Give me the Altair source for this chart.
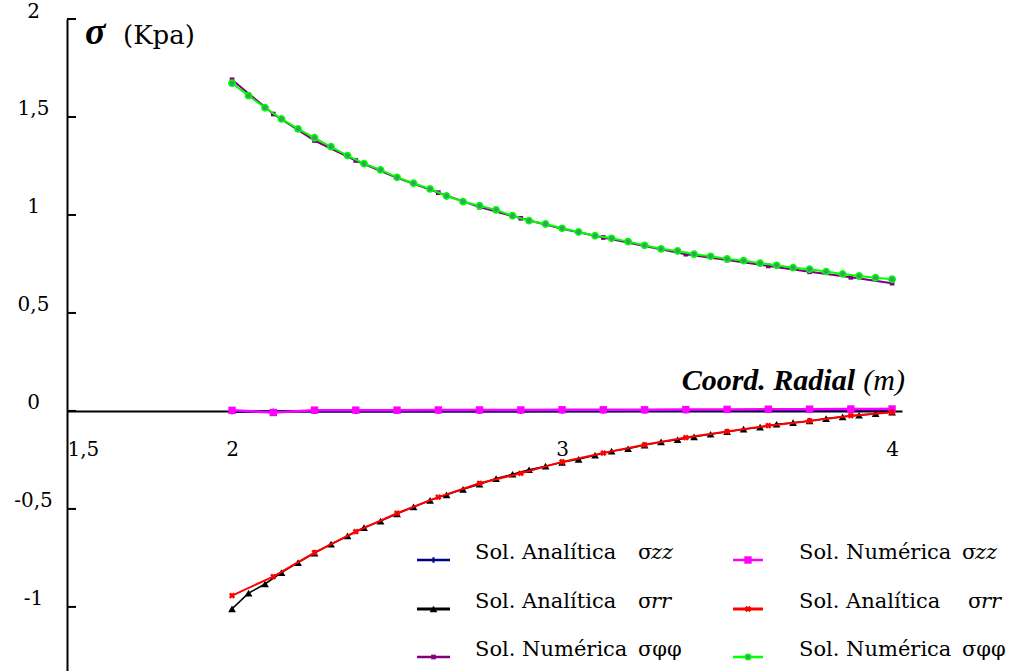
import altair as alt
import pandas as pd

# ---------------- data ----------------
x_fine = [2.00, 2.05, 2.10, 2.15, 2.20, 2.25, 2.30, 2.35, 2.40, 2.45,
          2.50, 2.55, 2.60, 2.65, 2.70, 2.75, 2.80, 2.85, 2.90, 2.95,
          3.00, 3.05, 3.10, 3.15, 3.20, 3.25, 3.30, 3.35, 3.40, 3.45,
          3.50, 3.55, 3.60, 3.65, 3.70, 3.75, 3.80, 3.85, 3.90, 3.95, 4.00]
x_coarse = [2.0, 2.125, 2.25, 2.375, 2.5, 2.625, 2.75, 2.875, 3.0,
            3.125, 3.25, 3.375, 3.5, 3.625, 3.75, 3.875, 4.0]

# Sol. Numérica sigma-phi-phi (green, fine)
phi_num_green = [1.672, 1.609, 1.547, 1.490, 1.439, 1.394, 1.348, 1.303, 1.262, 1.230,
                 1.192, 1.162, 1.133, 1.097, 1.068, 1.047, 1.026, 0.996, 0.971, 0.954,
                 0.932, 0.913, 0.894, 0.881, 0.864, 0.845, 0.827, 0.816, 0.800, 0.789,
                 0.776, 0.767, 0.754, 0.743, 0.731, 0.723, 0.711, 0.699, 0.689, 0.680, 0.672]
# Sol. Analítica sigma-rr (black triangles, fine)
rr_ana_black = [-1.010, -0.930, -0.883, -0.825, -0.774, -0.726, -0.680, -0.638, -0.595, -0.562,
                -0.525, -0.490, -0.456, -0.428, -0.400, -0.374, -0.345, -0.323, -0.300, -0.282,
                -0.262, -0.247, -0.226, -0.205, -0.193, -0.174, -0.158, -0.147, -0.132, -0.119,
                -0.106, -0.093, -0.083, -0.068, -0.060, -0.051, -0.039, -0.030, -0.022, -0.014, -0.006]
# Sol. Numérica sigma-phi-phi (purple, coarse)
phi_num_purple = [1.690, 1.515, 1.380, 1.278, 1.190, 1.114, 1.040, 0.983, 0.930,
                  0.885, 0.842, 0.800, 0.770, 0.740, 0.710, 0.682, 0.652]
# Sol. Analítica sigma-rr (red, coarse)
rr_ana_red = [-0.942, -0.845, -0.723, -0.616, -0.522, -0.440, -0.369, -0.318, -0.260,
              -0.215, -0.173, -0.136, -0.105, -0.075, -0.051, -0.024, -0.007]
# Sol. Numérica sigma-zz (magenta, coarse)
zz_num_magenta = [0.003, -0.008, 0.004, 0.004, 0.004, 0.005, 0.005, 0.005, 0.006,
                  0.006, 0.006, 0.007, 0.008, 0.009, 0.009, 0.010, 0.010]
# Sol. Analítica sigma-zz (navy, coarse)
zz_ana_navy = [-0.004, -0.002, -0.002, -0.002, -0.002, -0.001, -0.001, -0.001, 0.000,
               0.000, 0.001, 0.002, 0.003, 0.004, 0.004, 0.005, 0.006]

x_tick_values = [1.5, 2, 3, 4]
y_tick_values = [-1, -0.5, 0, 0.5, 1, 1.5, 2]

legend_names = ["Sol. Analítica", "Sol. Numérica", "Sol. Analítica",
                "Sol. Analítica", "Sol. Numérica", "Sol. Numérica"]
legend_sub = ["zz", "zz", "rr", "rr", "φφ", "φφ"]

# ---------------- layout ----------------
W, H = 835, 652
SERIF = "DejaVu Serif"
TSERIF = "Liberation Serif"

xscale = alt.Scale(domain=[1.5, 4.03], nice=False, zero=False)
yscale = alt.Scale(domain=[-1.327, 2.0], nice=False, zero=False)

x_axis = alt.Axis(values=x_tick_values, offset=-260, ticks=False, grid=False,
                  domainColor="black", domainWidth=2, labelFlush=True,
                  labelExpr="replace(toString(datum.value), '.', ',')",
                  labelFont=SERIF, labelFontSize=20, labelColor="black",
                  labelBaseline="middle", labelPadding=38, title=None)
y_axis = alt.Axis(values=y_tick_values, ticks=False, grid=False,
                  domainColor="black", domainWidth=2,
                  labelExpr="replace(toString(datum.value), '.', ',')",
                  labelFont=SERIF, labelFontSize=20, labelColor="black",
                  labelAlign="center", labelBaseline="middle", labelPadding=34,
                  labelOffset=-8, title=None)


def xy():
    return dict(x=alt.X("x:Q", scale=xscale, axis=x_axis),
                y=alt.Y("y:Q", scale=yscale, axis=y_axis))


def series(xs, ys, color, lw, shape, size, fill, stroke=None, sw=0, angle=0):
    df = pd.DataFrame({"x": xs, "y": ys})
    base = alt.Chart(df).encode(**xy())
    line = base.mark_line(color=color, strokeWidth=lw)
    kw = dict(shape=shape, size=size, filled=True, fill=fill, opacity=1)
    if stroke:
        kw.update(stroke=stroke, strokeWidth=sw)
    else:
        kw.update(strokeWidth=0)
    if angle:
        kw.update(angle=angle)
    pts = base.mark_point(**kw)
    return [line, pts]


layers = []
layers += series(x_coarse, zz_ana_navy, "#000080", 2.5, "cross", 28, "#000080")
layers += series(x_coarse, zz_num_magenta, "#ff00ff", 2.5, "square", 55, "#ff00ff")
layers += series(x_fine, rr_ana_black, "#000000", 1.5, "triangle-up", 60, "#000000")
layers += series(x_coarse, rr_ana_red, "#ff0000", 2, "cross", 40, "#ff0000", angle=45)
layers += series(x_coarse, phi_num_purple, "#800080", 2, "square", 22, "#800080")
layers += series(x_fine, phi_num_green, "#00ff00", 2, "circle", 40, "#3c9c6c",
                 stroke="#00ff00", sw=1.5)

# inward ticks on the y axis
tick_df = pd.DataFrame({"y": y_tick_values})
layers.append(alt.Chart(tick_df).mark_rule(color="black", strokeWidth=2).encode(
    y=alt.Y("y:Q", scale=yscale, axis=y_axis), x=alt.value(0), x2=alt.value(9)))

one = pd.DataFrame({"d": [0]})

# titles
layers.append(alt.Chart(one).mark_text(text="σ", font=TSERIF, fontSize=38, fontWeight="bold",
                                       fontStyle="italic", align="left", baseline="alphabetic",
                                       color="black").encode(x=alt.value(18), y=alt.value(25)))
layers.append(alt.Chart(one).mark_text(text="(Kpa)", font=SERIF, fontSize=26, align="left",
                                       baseline="alphabetic", color="black").encode(
    x=alt.value(56), y=alt.value(25)))
layers.append(alt.Chart(one).mark_text(text="Coord. Radial", font=TSERIF, fontSize=30,
                                       fontWeight="bold", fontStyle="italic", align="right",
                                       baseline="alphabetic", color="black").encode(
    x=alt.value(788), y=alt.value(371)))
layers.append(alt.Chart(one).mark_text(text="(m)", font=TSERIF, fontSize=30,
                                       fontStyle="italic", align="right",
                                       baseline="alphabetic", color="black").encode(
    x=alt.value(838), y=alt.value(371)))

# manual legend (2 columns x 3 rows)
leg_specs = [
    # (col, row, color, lw, shape, size, fill, stroke, angle)
    (0, 0, "#000080", 2.5, "cross", 28, "#000080", None, 0),
    (1, 0, "#ff00ff", 2.5, "square", 55, "#ff00ff", None, 0),
    (0, 1, "#000000", 3, "triangle-up", 60, "#000000", None, 0),
    (1, 1, "#ff0000", 3, "cross", 40, "#ff0000", None, 45),
    (0, 2, "#800080", 2.5, "square", 22, "#800080", None, 0),
    (1, 2, "#00ff00", 2.5, "circle", 30, "#3c9c6c", "#00ff00", 0),
]
col_sym = [(350, 383), (666, 696)]
col_text = [408, 732]
col_sigma = [571, 895]
row_y = [534, 583, 631]
for i, (c, r, color, lw, shape, size, fill, stroke, angle) in enumerate(leg_specs):
    ys = row_y[r] + 7
    x1, x2 = col_sym[c]
    layers.append(alt.Chart(one).mark_rule(color=color, strokeWidth=lw).encode(
        x=alt.value(x1), x2=alt.value(x2), y=alt.value(ys)))
    kw = dict(shape=shape, size=size, filled=True, fill=fill, opacity=1)
    if stroke:
        kw.update(stroke=stroke, strokeWidth=1.5)
    else:
        kw.update(strokeWidth=0)
    if angle:
        kw.update(angle=angle)
    layers.append(alt.Chart(one).mark_point(**kw).encode(
        x=alt.value((x1 + x2) / 2), y=alt.value(ys)))
    layers.append(alt.Chart(one).mark_text(text=legend_names[i], font=SERIF, fontSize=21,
                                           align="left", baseline="middle", color="black").encode(
        x=alt.value(col_text[c]), y=alt.value(row_y[r])))
    sx = col_sigma[c] + (6 if (c == 1 and r == 1) else 0)
    sub = legend_sub[i]
    if sub == "φφ":
        layers.append(alt.Chart(one).mark_text(text="σφφ", font=SERIF, fontSize=21,
                                               align="left", baseline="middle",
                                               color="black").encode(
            x=alt.value(sx), y=alt.value(row_y[r])))
    else:
        layers.append(alt.Chart(one).mark_text(text="σ", font=SERIF, fontSize=21,
                                               align="left", baseline="middle",
                                               color="black").encode(
            x=alt.value(sx), y=alt.value(row_y[r])))
        layers.append(alt.Chart(one).mark_text(text=sub, font=SERIF, fontSize=21,
                                               fontStyle="italic", align="left",
                                               baseline="middle", color="black").encode(
            x=alt.value(sx + 13), y=alt.value(row_y[r])))

chart = alt.layer(*layers).properties(
    width=W, height=H,
    autosize=alt.AutoSizeParams(type="none"),
    padding={"left": 67, "top": 19, "right": 120, "bottom": 0},
    background="white",
).configure_view(stroke=None)

chart.save("out.html", embed_options={"renderer": "svg", "actions": False})
